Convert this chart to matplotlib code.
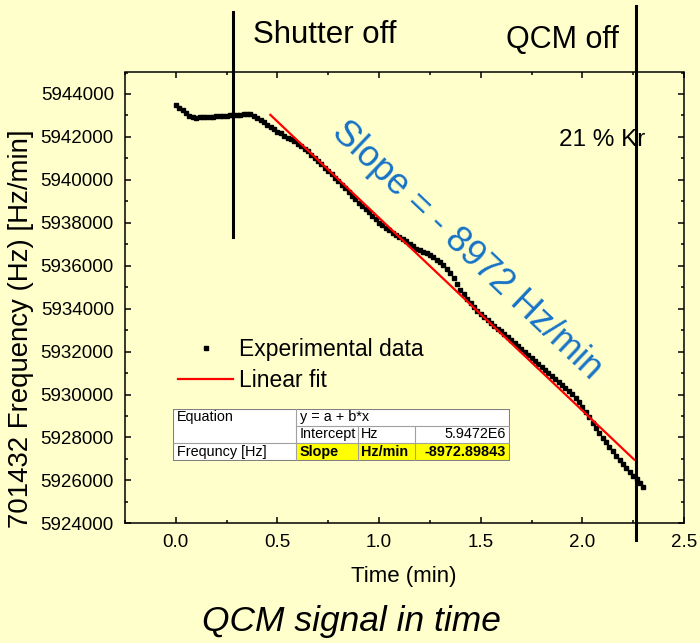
import numpy as np
import matplotlib.pyplot as plt
from matplotlib.ticker import MultipleLocator, FormatStrFormatter
from matplotlib.patches import Rectangle

plt.rcParams['font.family'] = ['Liberation Sans', 'DejaVu Sans']

# QCM readout, one sample per second
time_s = [0, 1, 2, 3, 4, 5, 6, 7, 8, 9, 10, 11, 12, 13, 14, 15, 16, 17, 18, 19,
          20, 21, 22, 23, 24, 25, 26, 27, 28, 29, 30, 31, 32, 33, 34, 35, 36, 37, 38, 39,
          40, 41, 42, 43, 44, 45, 46, 47, 48, 49, 50, 51, 52, 53, 54, 55, 56, 57, 58, 59,
          60, 61, 62, 63, 64, 65, 66, 67, 68, 69, 70, 71, 72, 73, 74, 75, 76, 77, 78, 79,
          80, 81, 82, 83, 84, 85, 86, 87, 88, 89, 90, 91, 92, 93, 94, 95, 96, 97, 98, 99,
          100, 101, 102, 103, 104, 105, 106, 107, 108, 109, 110, 111, 112, 113, 114, 115,
          116, 117, 118, 119, 120, 121, 122, 123, 124, 125, 126, 127, 128, 129, 130, 131,
          132, 133, 134, 135, 136, 137, 138]
freq_hz = [5943480, 5943350, 5943230, 5943110, 5942980, 5942910, 5942900, 5942910, 5942920, 5942930,
           5942940, 5942950, 5942960, 5942970, 5942980, 5942990, 5943000, 5943020, 5943030, 5943040,
           5943050, 5943060, 5943050, 5942980, 5942870, 5942780, 5942680, 5942570, 5942460, 5942360,
           5942250, 5942160, 5942060, 5941970, 5941890, 5941800, 5941690, 5941560, 5941440, 5941320,
           5941170, 5941020, 5940870, 5940720, 5940570, 5940410, 5940260, 5940100, 5939940, 5939780,
           5939610, 5939430, 5939250, 5939090, 5938940, 5938790, 5938640, 5938490, 5938320, 5938160,
           5937990, 5937880, 5937760, 5937640, 5937530, 5937430, 5937330, 5937240, 5937140, 5937020,
           5936900, 5936800, 5936710, 5936640, 5936570, 5936500, 5936390, 5936280, 5936160, 5936010,
           5935850, 5935670, 5935410, 5935150, 5934890, 5934660, 5934450, 5934260, 5934080, 5933910,
           5933740, 5933610, 5933470, 5933340, 5933210, 5933070, 5932940, 5932800, 5932660, 5932530,
           5932400, 5932260, 5932130, 5931980, 5931830, 5931680, 5931550, 5931410, 5931280, 5931130,
           5930990, 5930860, 5930710, 5930560, 5930430, 5930300, 5930160, 5930030, 5929850, 5929650,
           5929440, 5929200, 5928940, 5928670, 5928440, 5928210, 5927980, 5927770, 5927560, 5927350,
           5927140, 5926930, 5926740, 5926560, 5926390, 5926220, 5926050, 5925880, 5925700]

# linear fit y = a + b*x
fit_intercept = 5.9472e6
fit_slope = -8972.89843
fit_range = [0.465, 2.255]

shutter_off = 0.283
qcm_off = 2.263

time_min = np.array(time_s) / 60.0

bg = '#FFFFCC'
fig = plt.figure(figsize=(7, 6.43), dpi=100, facecolor=bg)
ax = fig.add_axes([125 / 700, 1 - 523.3 / 643, 559 / 700, 450.8 / 643])
ax.set_facecolor(bg)

pts, = ax.plot(time_min, freq_hz, 's', color='black', markersize=2.4, linestyle='none')
fx = np.array(fit_range)
fitline, = ax.plot(fx, fit_intercept + fit_slope * fx, color='red', lw=1.6)

# shutter / QCM markers run past the frame
ax.plot([shutter_off, shutter_off], [5937360, 5947800], color='black', lw=2.2, clip_on=False)
ax.plot([qcm_off, qcm_off], [5923230, 5948100], color='black', lw=2.2, clip_on=False)

ax.set_xlim(-0.25, 2.5)
ax.set_ylim(5924000, 5945000)
ax.xaxis.set_major_locator(MultipleLocator(0.5))
ax.xaxis.set_minor_locator(MultipleLocator(0.25))
ax.yaxis.set_major_locator(MultipleLocator(2000))
ax.yaxis.set_minor_locator(MultipleLocator(1000))
ax.xaxis.set_major_formatter(FormatStrFormatter('%.1f'))
ax.yaxis.set_major_formatter(FormatStrFormatter('%d'))
ax.tick_params(which='both', direction='in', top=True, right=True, width=1.1)
ax.tick_params(which='major', length=4, labelsize=13.5)
ax.tick_params(axis='x', which='major', pad=8)
ax.tick_params(axis='y', which='major', pad=8)
ax.tick_params(which='minor', length=2.5)
for s in ax.spines.values():
    s.set_linewidth(1.1)

ax.set_xlabel('Time (min)', fontsize=16, va='center')
ax.xaxis.set_label_coords(0.499, -0.119)
ax.set_ylabel('701432 Frequency (Hz) [Hz/min]', fontsize=19.9, va='center')
ax.yaxis.set_label_coords(-0.186, 0.431)

fig.text(351 / 700, 1 - 622 / 643, 'QCM signal in time', fontsize=25.5, style='italic',
         ha='center', va='center')
fig.text(325 / 700, 1 - 35 / 643, 'Shutter off', fontsize=22.5, ha='center', va='center')
fig.text(562 / 700, 1 - 40 / 643, 'QCM off', fontsize=22, ha='center', va='center')
fig.text(602 / 700, 1 - 140 / 643, '21 % Kr', fontsize=17.5, ha='center', va='center')

ax.text(1.433, 5936700, 'Slope = - %d Hz/min' % int(abs(fit_slope)), fontsize=26,
        color='#1672C6', rotation=-43.5, rotation_mode='anchor', ha='center', va='center')

ax.legend([pts, fitline], ['Experimental data', 'Linear fit'], loc='center left',
          bbox_to_anchor=(178 / 700, 1 - 365 / 643), bbox_transform=fig.transFigure,
          frameon=False, fontsize=16.5, numpoints=1, handlelength=2.4, handletextpad=0.28,
          labelspacing=0.35, borderpad=0, borderaxespad=0, markerscale=1.3)

# fit results table
tab = fig.add_axes([173 / 700, 1 - 461 / 643, 337 / 700, 52 / 643])
tab.set_xlim(0, 337)
tab.set_ylim(52, 0)
tab.axis('off')
tab.add_patch(Rectangle((0, 0), 337, 52, facecolor='white', edgecolor='none'))
tab.add_patch(Rectangle((123.4, 34), 213.6, 18, facecolor='#FFFF00', edgecolor='none'))
grid = '#A0A0A0'
tab.plot([123.4, 337], [16.7, 16.7], color=grid, lw=0.8)
tab.plot([0, 337], [34, 34], color=grid, lw=0.8)
tab.plot([123.4, 123.4], [0, 52], color=grid, lw=0.8)
tab.plot([185, 185], [16.7, 52], color=grid, lw=0.8)
tab.plot([242.4, 242.4], [16.7, 52], color=grid, lw=0.8)
tab.add_patch(Rectangle((0, 0), 337, 52, facecolor='none', edgecolor='#808080', lw=1.5))

fs = 10.4
tab.text(4, 8.4, 'Equation', fontsize=fs, va='center')
tab.text(127, 8.4, 'y = a + b*x', fontsize=fs, va='center')
tab.text(127, 25.4, 'Intercept', fontsize=fs, va='center')
tab.text(188, 25.4, 'Hz', fontsize=fs, va='center')
tab.text(333, 25.4, '%.4fE6' % (fit_intercept / 1e6), fontsize=fs, va='center', ha='right')
tab.text(4, 43, 'Frequncy [Hz]', fontsize=fs, va='center')
tab.text(127, 43, 'Slope', fontsize=fs, va='center', weight='bold')
tab.text(188, 43, 'Hz/min', fontsize=fs, va='center', weight='bold')
tab.text(333, 43, '%.5f' % fit_slope, fontsize=fs, va='center', ha='right', weight='bold')

fig.savefig('out.png', dpi=100, facecolor=bg)
